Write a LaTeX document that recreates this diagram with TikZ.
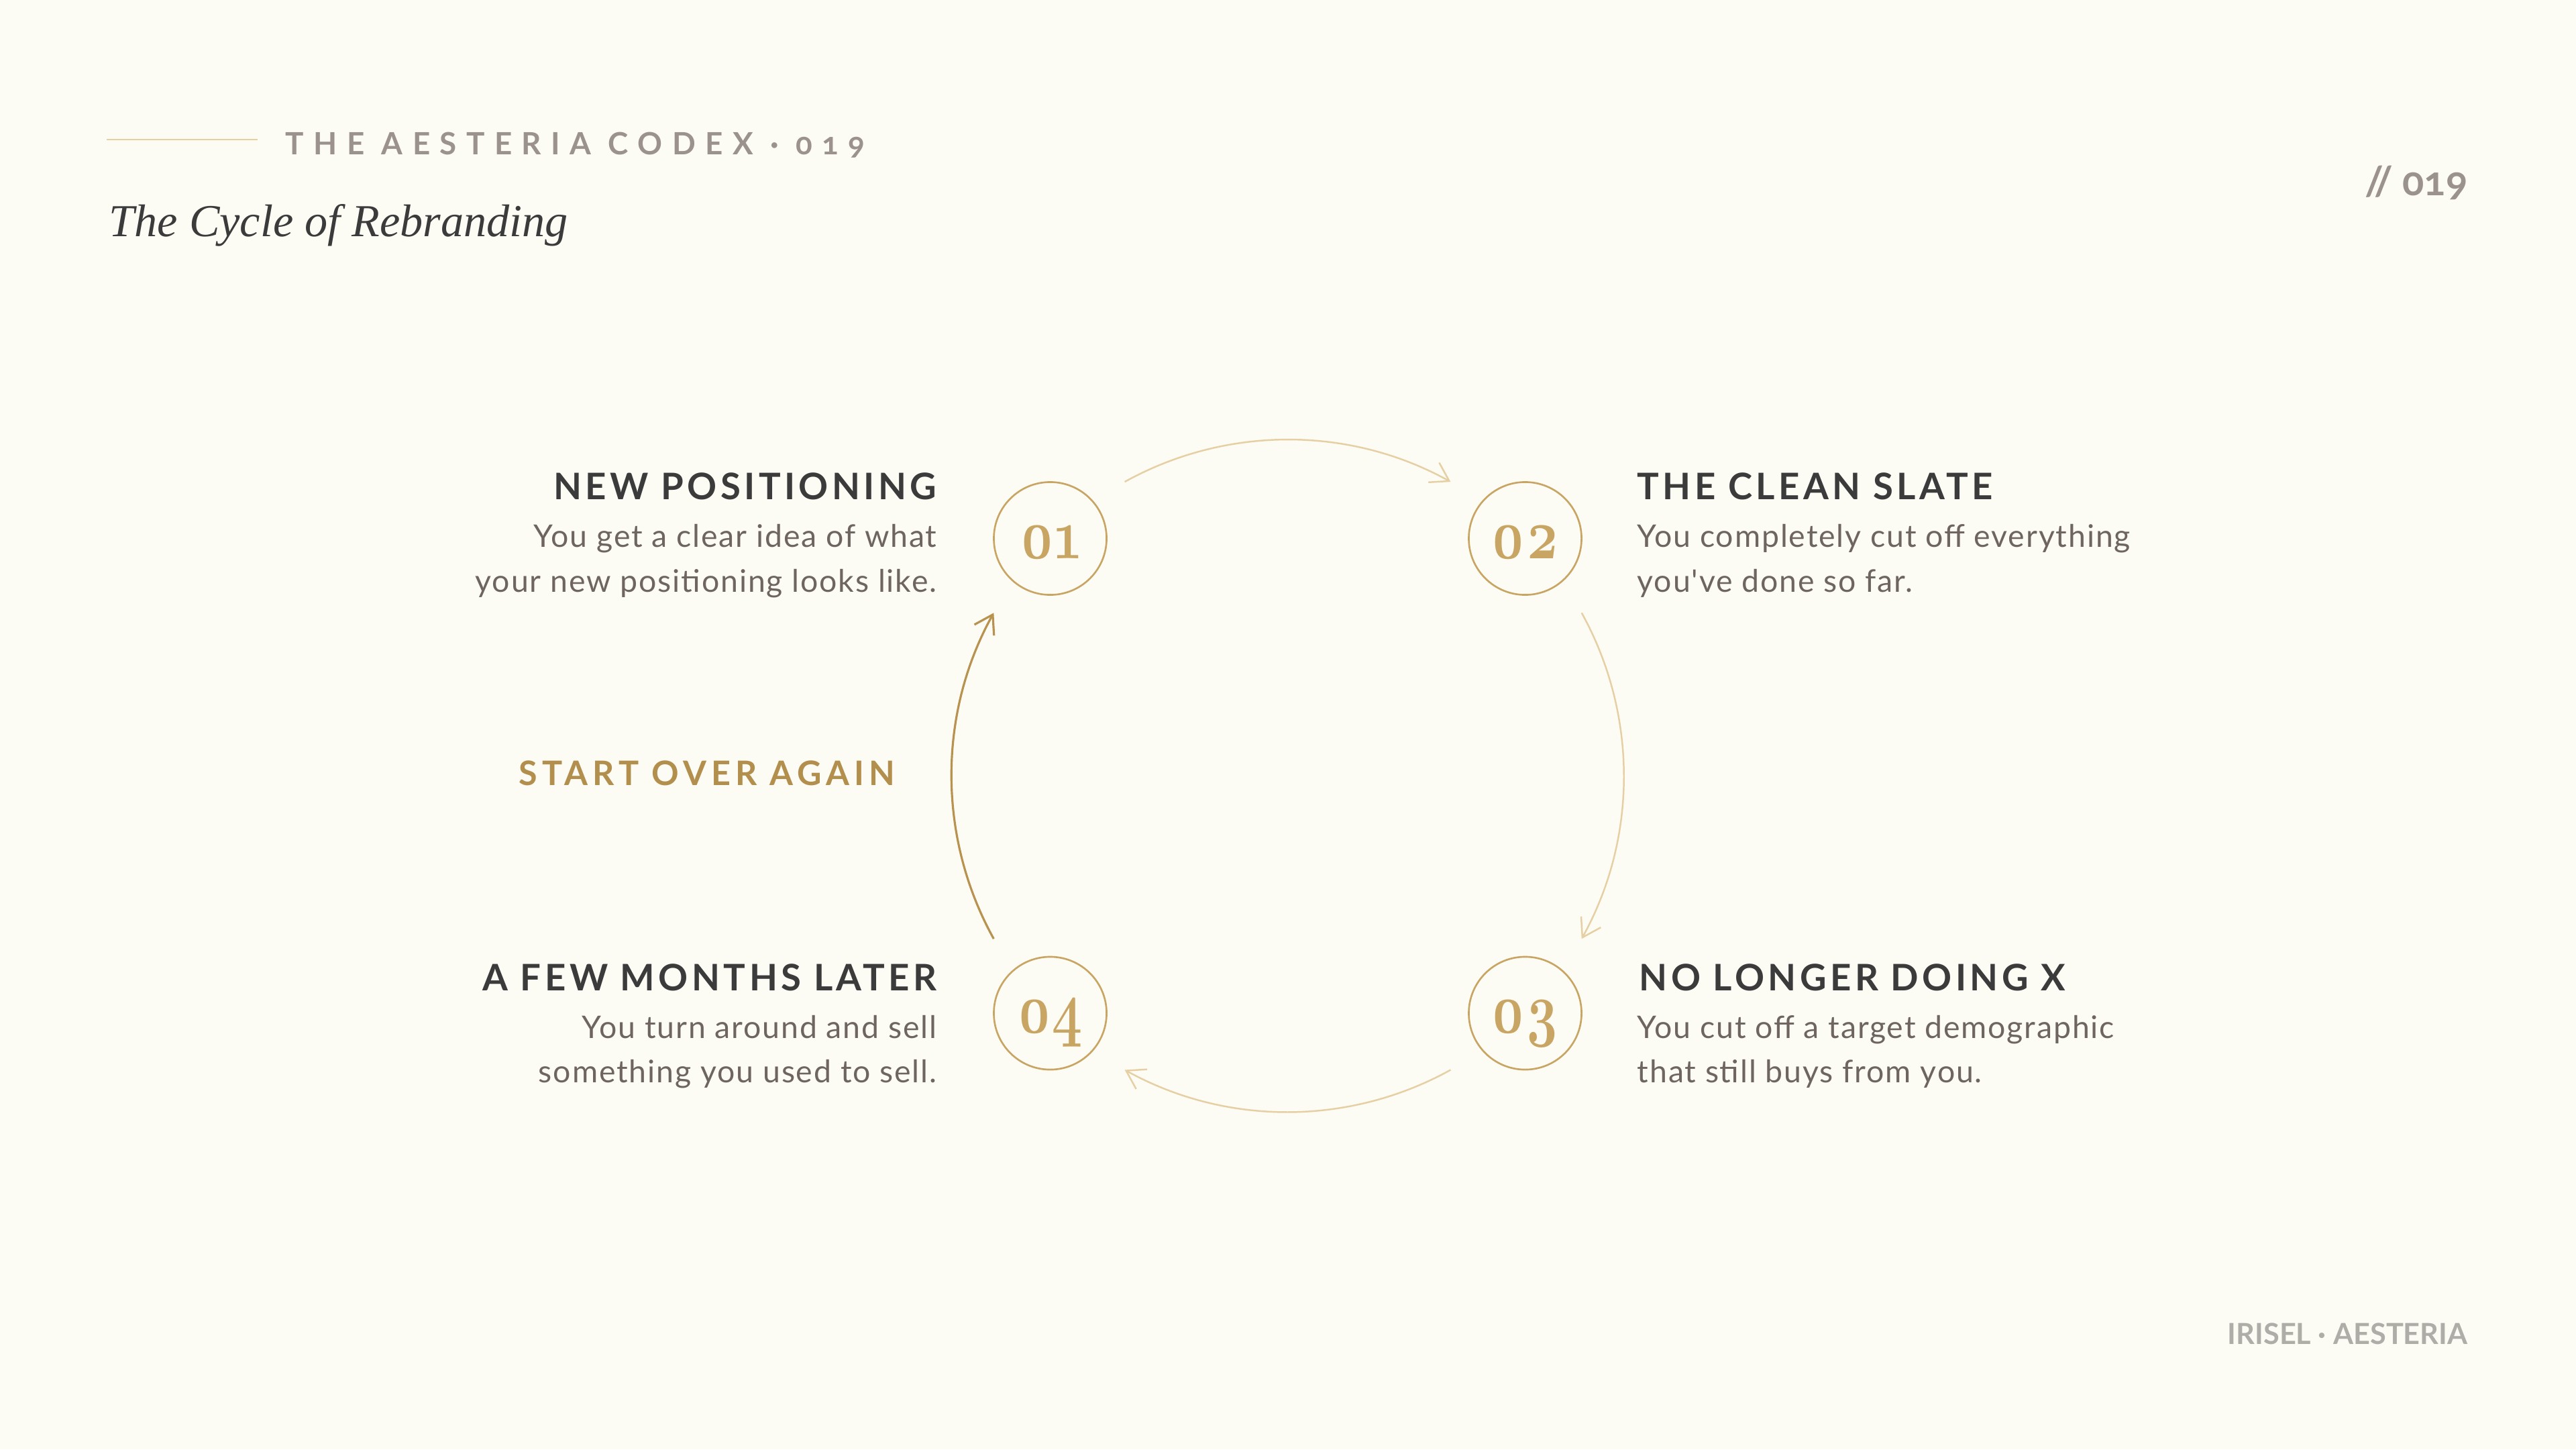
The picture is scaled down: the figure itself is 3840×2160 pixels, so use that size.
\documentclass[tikz,border=0pt]{standalone}
\usepackage{fontspec}
\usepackage{graphicx}
\usetikzlibrary{arrows.meta,calc}
\setsansfont{Lato}
\newfontfamily\hdrfont{Lato}[LetterSpace=31.5,Numbers=OldStyle]
\newfontfamily\stepfont{Lato}[LetterSpace=10]
\newfontfamily\startfont{Lato}[LetterSpace=14]
\newfontfamily\bodyfont{Lato}[LetterSpace=4]
\newfontfamily\footfont{Lato}
\newfontfamily\tagfont{Lato}[Numbers=OldStyle]
\newfontfamily\digfont{Latin Modern Roman}[Numbers=OldStyle]
\newfontfamily\ttlfont{Liberation Serif}
\definecolor{bg}{HTML}{FCFBF4}
\definecolor{ink}{HTML}{3B3B3B}
\definecolor{bodyc}{HTML}{6E6560}
\definecolor{hdrc}{HTML}{9C928D}
\definecolor{footc}{HTML}{AEADA8}
\definecolor{gold}{HTML}{C9A564}
\definecolor{goldlight}{HTML}{E6D0A3}
\definecolor{golddark}{HTML}{B8924F}
\definecolor{startc}{HTML}{B38F4D}
\definecolor{rulec}{HTML}{E8CF9E}
\tikzset{
  stepcircle/.style={circle, draw=gold, line width=0.75pt, minimum size=1.68cm, inner sep=0pt,
    text=gold, text height=17pt, text depth=0pt,
    font=\digfont\bfseries\fontsize{30.5}{31}\selectfont},
  headtxt/.style={text=ink, inner sep=0pt, font=\stepfont\bfseries\fontsize{15.5}{18}\selectfont},
  bodytxt/.style={text=bodyc, inner sep=0pt, font=\bodyfont\fontsize{13.2}{19}\selectfont},
  lightarc/.style={draw=goldlight, line width=0.7pt, -{Straight Barb[length=7.5pt,width=9.5pt]}},
  darkarc/.style={draw=golddark, line width=0.9pt, -{Straight Barb[length=7.5pt,width=9.5pt]}},
}
\begin{document}
\begin{tikzpicture}[x=0.01cm, y=-0.01cm]
\fill[bg] (0,0) rectangle (3840,2160);
\useasboundingbox (0,0) rectangle (3840,2160);
% header
\coordinate (ruleA) at (159,208);
\coordinate (ruleB) at (384,208);
\draw[rulec, line width=0.7pt] (ruleA) -- (ruleB);
\node[anchor=base west, inner sep=0pt, text=hdrc, font=\hdrfont\bfseries\fontsize{13}{15}\selectfont] (hdr) at (425,230) {THE AESTERIA CODEX · 019};
\node[anchor=base west, inner sep=0pt, text=ink, font=\ttlfont\itshape\fontsize{19.4}{22}\selectfont] (title) at (162,352) {The Cycle of Rebranding};
\node[anchor=base east, inner sep=0pt, text=hdrc, font=\tagfont\bfseries\fontsize{17}{19}\selectfont] (tag) at (3679,291) {// 019};
\node[anchor=base east, inner sep=0pt, text=footc, font=\footfont\bfseries\fontsize{12.3}{14}\selectfont] (foot) at (3679,2003) {IRISEL · AESTERIA};
% circles
\node[stepcircle] (n1) at (1565.5,802.5) {\scalebox{0.75}[1]{01}};
\node[stepcircle] (n2) at (2273.5,802.5) {\scalebox{0.75}[1]{02}};
\node[stepcircle] (n3) at (2273.5,1510) {\scalebox{0.75}[1]{03}};
\node[stepcircle] (n4) at (1565.5,1510) {\scalebox{0.75}[1]{04}};
% cycle arcs
\coordinate (ctr) at ($(n1)!0.5!(n3)$);
\draw[lightarc] ($(ctr)+(-119:501)$) arc[start angle=-119, end angle=-61, radius=501];
\draw[lightarc] ($(ctr)+(-29:501)$) arc[start angle=-29, end angle=29, radius=501];
\draw[lightarc] ($(ctr)+(61:501)$) arc[start angle=61, end angle=119, radius=501];
\draw[darkarc] ($(ctr)+(151:501)$) arc[start angle=151, end angle=209, radius=501];
% labels
\node[headtxt, anchor=base east] (h1) at (1397,744) {NEW POSITIONING};
\node[bodytxt, anchor=base east] (b1a) at (1397,815) {You get a clear idea of what};
\node[bodytxt, anchor=base east] (b1b) at (1397,882) {your new positioning looks like.};
\node[headtxt, anchor=base west] (h2) at (2440,744) {THE CLEAN SLATE};
\node[bodytxt, anchor=base west] (b2a) at (2440,815) {You completely cut off everything};
\node[bodytxt, anchor=base west] (b2b) at (2440,882) {you've done so far.};
\node[headtxt, anchor=base west] (h3) at (2443,1476) {NO LONGER DOING X};
\node[bodytxt, anchor=base west] (b3a) at (2440,1547) {You cut off a target demographic};
\node[bodytxt, anchor=base west] (b3b) at (2440,1613) {that still buys from you.};
\node[headtxt, anchor=base east] (h4) at (1397,1476) {A FEW MONTHS LATER};
\node[bodytxt, anchor=base east] (b4a) at (1397,1547) {You turn around and sell};
\node[bodytxt, anchor=base east] (b4b) at (1397,1613) {something you used to sell.};
\node[anchor=base east, inner sep=0pt, text=startc, font=\startfont\bfseries\fontsize{14.3}{16}\selectfont] (again) at (1335,1170) {START OVER AGAIN};
\end{tikzpicture}
\end{document}
